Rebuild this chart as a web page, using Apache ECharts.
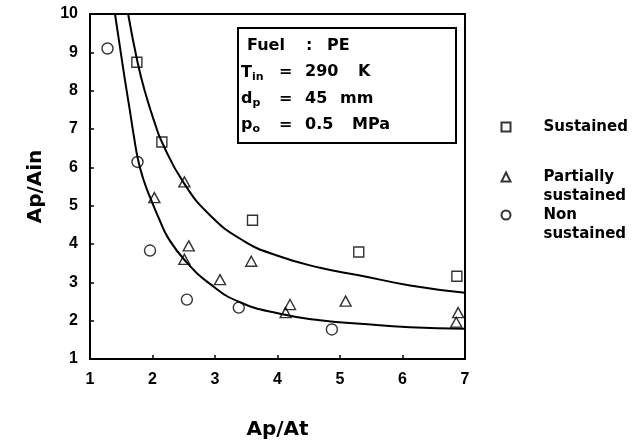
<!DOCTYPE html>
<html><head><meta charset="utf-8">
<script src="https://cdn.jsdelivr.net/npm/echarts@6/dist/echarts.min.js"></script>
<style>html,body{margin:0;padding:0;background:#fff}#c{width:632px;height:443px}</style>
</head><body><div id="c"></div>
<script>
// ---- data ----
const sustainedX = [1.75, 2.15, 3.60, 5.30, 6.87];
const sustainedY = [8.74, 6.66, 4.62, 3.79, 3.16];
const partialX = [2.03, 2.51, 2.58, 2.51, 3.08, 3.58, 4.13, 4.20, 5.09, 6.89, 6.86];
const partialY = [5.21, 5.62, 3.95, 3.60, 3.07, 3.55, 2.21, 2.42, 2.51, 2.21, 1.96];
const nonX = [1.28, 1.76, 1.96, 2.55, 3.38, 4.87];
const nonY = [9.10, 6.14, 3.83, 2.55, 2.34, 1.77];
const upperCurveX = [1.61, 1.76, 1.88, 2.04, 2.15, 2.49, 2.92, 3.45, 3.99, 4.68, 5.32, 6.12, 7.00];
const upperCurveY = [10.0, 8.75, 7.97, 7.14, 6.66, 5.62, 4.75, 4.09, 3.70, 3.38, 3.18, 2.92, 2.73];
const lowerCurveX = [1.40, 1.48, 1.56, 1.64, 1.70, 1.77, 1.85, 1.96, 2.12, 2.25, 2.52, 2.92, 3.40, 4.04, 4.68, 5.32, 6.12, 7.00];
const lowerCurveY = [10.0, 9.13, 8.27, 7.46, 6.83, 6.19, 5.71, 5.22, 4.60, 4.16, 3.57, 2.96, 2.48, 2.18, 2.01, 1.92, 1.83, 1.79];
const seriesNames = ['Sustained', 'Partially\nsustained', 'Non\nsustained'];
const xTitle = 'Ap/At';
const yTitle = 'Ap/Ain';

function pairs(xs, ys) { return xs.map((x, i) => [x, ys[i]]); }
const F = 'DejaVu Sans';
const FT = 'Liberation Sans';

const chart = echarts.init(document.getElementById('c'), null, { renderer: 'canvas' });

const markStyle = { color: 'rgba(255,255,255,0)', borderColor: '#000', borderWidth: 1.4 };
const legendText = { fontFamily: F, fontWeight: 'bold', fontSize: 15, color: '#000', lineHeight: 19, padding: [0, 0, 0, 28] };
function legendCfg(name, top, twoLine) {
  return {
    data: [name], left: 500.5, top: top, orient: 'vertical', padding: 0,
    itemWidth: 9, itemHeight: 9, selectedMode: false,
    formatter: twoLine ? (n => '\n' + n) : (n => n),
    textStyle: legendText
  };
}

function txt(x, y, text, size) {
  return { type: 'text', x: x, y: y, silent: true,
    style: { text: text, font: 'bold ' + (size || 16) + 'px "' + F + '"', fill: '#000', verticalAlign: 'middle', align: 'left' } };
}
function subTxt(x, y, main, sub) {
  return { type: 'text', x: x, y: y, silent: true,
    style: { text: '{m|' + main + '}{s|' + sub + '}', fill: '#000', verticalAlign: 'middle', align: 'left',
      rich: { m: { fontFamily: F, fontWeight: 'bold', fontSize: 16, fill: '#000' },
              s: { fontFamily: F, fontWeight: 'bold', fontSize: 11, fill: '#000', padding: [9, 0, 0, 0] } } } };
}

const graphics = [
  { type: 'rect', silent: true, shape: { x: 238, y: 28, width: 218, height: 115 },
    style: { fill: 'none', stroke: '#000', lineWidth: 2 } },
  txt(247, 46, 'Fuel'), txt(306, 46, ':'), txt(327, 46, 'PE'),
  subTxt(241, 73, 'T', 'in'), txt(279, 72, '='), txt(305, 72, '290'), txt(358, 72, 'K'),
  subTxt(241, 99, 'd', 'p'), txt(279, 99, '='), txt(305, 99, '45'), txt(340, 99, 'mm'),
  subTxt(241, 125, 'p', 'o'), txt(279, 125, '='), txt(305, 125, '0.5'), txt(352, 125, 'MPa')
];

const axisLabelStyle = { color: '#000', fontFamily: FT, fontWeight: 'bold', fontSize: 16 };
const nameStyle = { color: '#000', fontFamily: F, fontWeight: 'bold', fontSize: 20 };

chart.setOption({
  backgroundColor: '#fff',
  animation: false,
  grid: { left: 90, right: 167, top: 14, bottom: 84, containLabel: false, outerBoundsMode: 'none',
    show: true, borderColor: '#000', borderWidth: 2, backgroundColor: 'transparent' },
  xAxis: {
    type: 'value', min: 1, max: 7, interval: 1,
    axisLine: { show: true, onZero: false, lineStyle: { color: '#000', width: 2 } },
    axisTick: { show: true, inside: true, length: 4, lineStyle: { color: '#000', width: 1.5 } },
    axisLabel: Object.assign({ margin: 13 }, axisLabelStyle),
    splitLine: { show: false },
    name: xTitle, nameLocation: 'middle', nameGap: 61, nameTextStyle: nameStyle
  },
  yAxis: {
    type: 'value', min: 1, max: 10, interval: 1,
    axisLine: { show: true, onZero: false, lineStyle: { color: '#000', width: 2 } },
    axisTick: { show: true, inside: true, length: 4, lineStyle: { color: '#000', width: 1.5 } },
    axisLabel: Object.assign({ margin: 12 }, axisLabelStyle),
    splitLine: { show: false },
    name: yTitle, nameLocation: 'middle', nameGap: 44, nameTextStyle: nameStyle
  },
  legend: [
    legendCfg(seriesNames[0], 117.5, false),
    legendCfg(seriesNames[1], 148.5, true),
    legendCfg(seriesNames[2], 186.5, true)
  ],
  graphic: graphics,
  series: [
    { name: 'upper fit', type: 'line', data: pairs(upperCurveX, upperCurveY), smooth: 0.5,
      showSymbol: false, symbol: 'none', silent: true, lineStyle: { color: '#000', width: 2 }, z: 3 },
    { name: 'lower fit', type: 'line', data: pairs(lowerCurveX, lowerCurveY), smooth: 0.5,
      showSymbol: false, symbol: 'none', silent: true, lineStyle: { color: '#000', width: 2 }, z: 3 },
    { name: seriesNames[0], type: 'scatter', symbol: 'rect', symbolSize: 10, data: pairs(sustainedX, sustainedY), itemStyle: markStyle, z: 4 },
    { name: seriesNames[1], type: 'scatter', symbol: 'triangle', symbolSize: [11, 10], data: pairs(partialX, partialY), itemStyle: markStyle, z: 4 },
    { name: seriesNames[2], type: 'scatter', symbol: 'circle', symbolSize: 11, data: pairs(nonX, nonY), itemStyle: markStyle, z: 4 }
  ]
});
</script>
</body></html>
